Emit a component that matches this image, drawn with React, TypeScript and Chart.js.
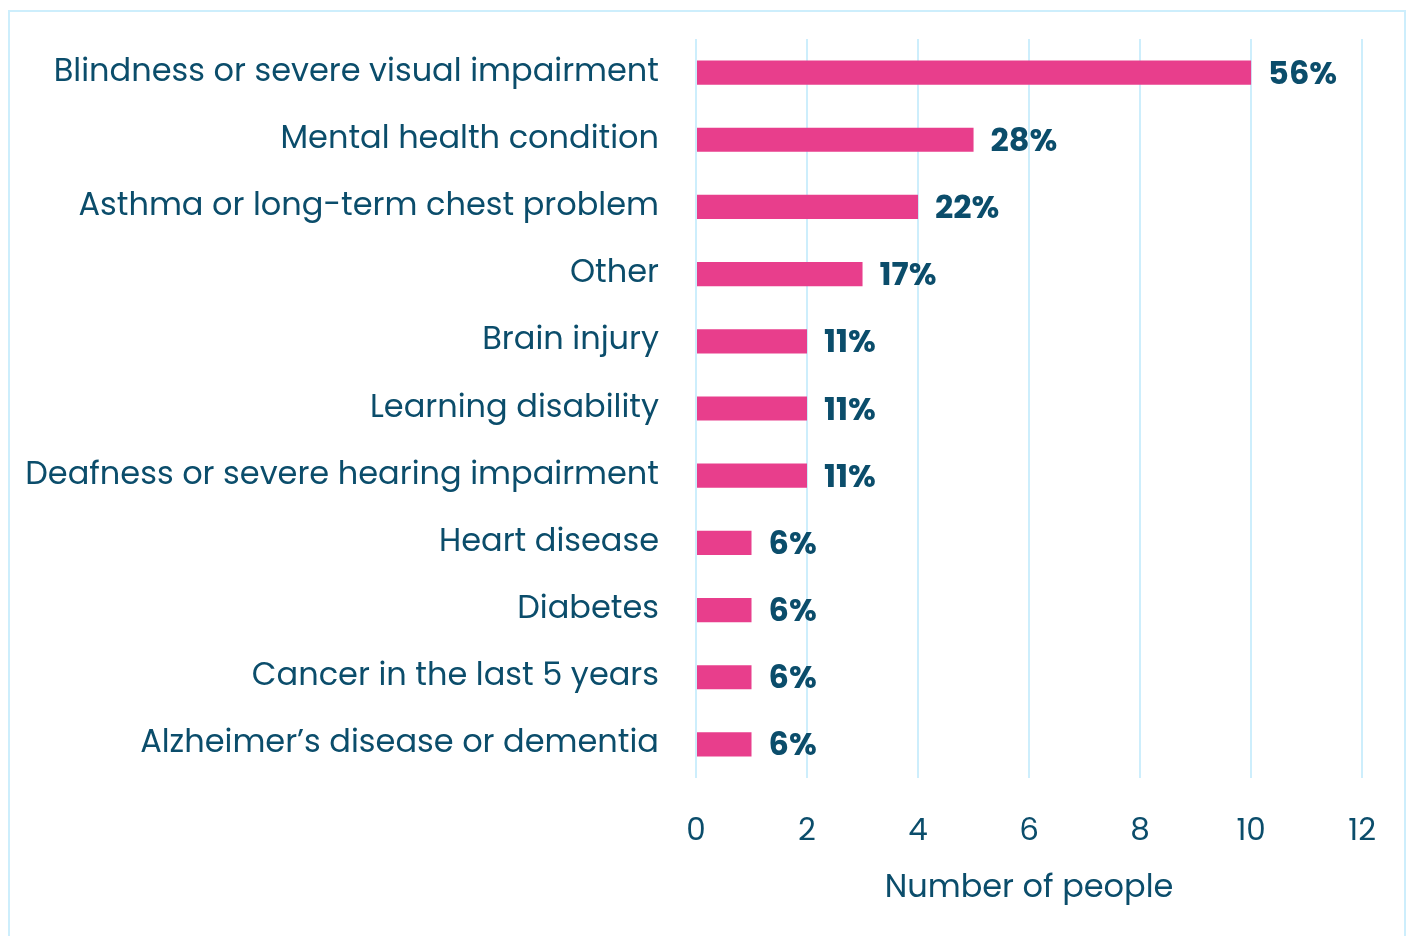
import React, { useEffect, useRef } from "react";
import { Chart, registerables } from "chart.js";

Chart.register(...registerables);

const categories = [
  "Blindness or severe visual impairment",
  "Mental health condition",
  "Asthma or long-term chest problem",
  "Other",
  "Brain injury",
  "Learning disability",
  "Deafness or severe hearing impairment",
  "Heart disease",
  "Diabetes",
  "Cancer in the last 5 years",
  "Alzheimer\u2019s disease or dementia",
];
const counts = [10, 5, 4, 3, 2, 2, 2, 1, 1, 1, 1];
const percentLabels = ["56%", "28%", "22%", "17%", "11%", "11%", "11%", "6%", "6%", "6%", "6%"];
const xTicks = [0, 2, 4, 6, 8, 10, 12];
const xTitle = "Number of people";

const TEXT = "#0b4d6b";
const GRID = "#cdeefc";
const BAR = "#e83e8c";
const FONT = "Poppins, Inter, 'Noto Sans', sans-serif";

const valueLabels = {
  id: "valueLabels",
  afterDatasetsDraw(chart: any) {
    const ctx = chart.ctx;
    const meta = chart.getDatasetMeta(0);
    ctx.save();
    ctx.fillStyle = TEXT;
    ctx.font = `bold 32px ${FONT}`;
    ctx.textAlign = "left";
    ctx.textBaseline = "middle";
    meta.data.forEach((bar: any, i: number) => {
      ctx.fillText(percentLabels[i], bar.x + 17, bar.y + 3);
    });
    ctx.restore();
  },
};

export default function App() {
  const ref = useRef<HTMLCanvasElement | null>(null);
  useEffect(() => {
    document.body.style.margin = "0";
    const chart = new Chart(ref.current!, {
      type: "bar",
      data: {
        labels: categories,
        datasets: [
          {
            data: counts,
            backgroundColor: BAR,
            barPercentage: 0.72,
            categoryPercentage: 0.5,
          },
        ],
      },
      options: {
        indexAxis: "y",
        animation: false,
        responsive: false,
        maintainAspectRatio: false,
        layout: { padding: { left: 0, right: 49, top: 39, bottom: 0 } },
        plugins: {
          legend: { display: false },
          tooltip: { enabled: false },
        },
        scales: {
          x: {
            min: 0,
            max: 12,
            afterBuildTicks: (axis: any) => {
              axis.ticks = xTicks.map((v) => ({ value: v }));
            },
            afterFit: (axis: any) => {
              axis.height = 158;
            },
            grid: { color: GRID, lineWidth: 2, drawTicks: false },
            border: { display: false },
            ticks: {
              color: TEXT,
              font: { family: FONT, size: 31 },
              padding: 36,
            },
            title: {
              display: true,
              text: xTitle,
              color: TEXT,
              font: { family: FONT, size: 32 },
              padding: { top: 0, bottom: 28 },
            },
          },
          y: {
            afterFit: (axis: any) => {
              axis.width = 696;
              axis.paddingTop = 0;
              axis.paddingBottom = 0;
            },
            grid: { display: false, drawTicks: false },
            border: { display: false },
            ticks: {
              color: TEXT,
              font: { family: FONT, size: 32 },
              padding: 37,
            },
          },
        },
      },
      plugins: [valueLabels],
    });
    return () => chart.destroy();
  }, []);
  return (
    <div style={{ position: "relative", width: 1412, height: 936, overflow: "hidden", background: "#fff" }}>
      <div
        style={{
          position: "absolute",
          left: 8,
          top: 10,
          width: 1398,
          height: 940,
          border: `2px solid ${GRID}`,
          boxSizing: "border-box",
        }}
      />
      <canvas ref={ref} width={1412} height={936} style={{ position: "absolute", left: 0, top: 0 }} />
    </div>
  );
}
